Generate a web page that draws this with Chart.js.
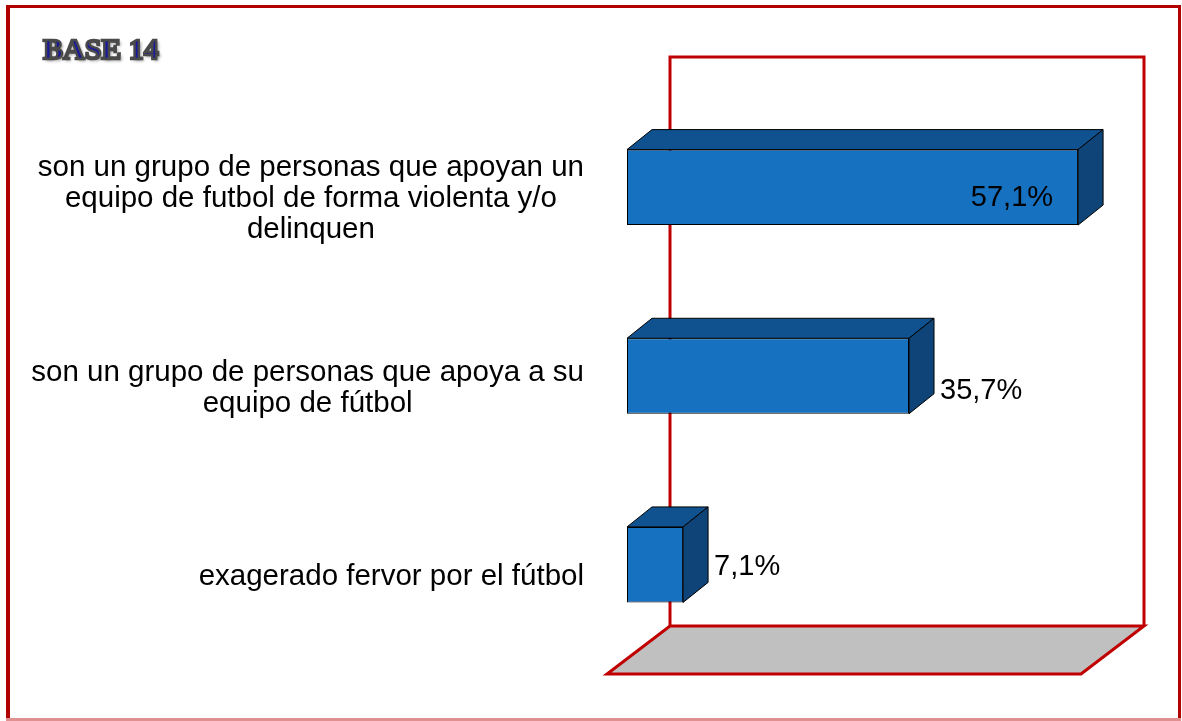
<!DOCTYPE html>
<html><head><meta charset="utf-8">
<script src="https://cdn.jsdelivr.net/npm/chart.js@4"></script>
<style>html,body{margin:0;padding:0;background:#fff}#wrap{width:1182px;height:721px;position:relative}</style>
</head><body><div id="wrap"><canvas id="c" width="1182" height="721"></canvas></div>
<script>
const titleText = 'BASE 14';
const categories = [
  ['son un grupo de personas que apoyan un', 'equipo de futbol de forma violenta y/o', 'delinquen'],
  ['son un grupo de personas que apoya a su', 'equipo de fútbol'],
  ['exagerado fervor por el fútbol']
];
const values = [57.1, 35.7, 7.1];
const valueLabels = ['57,1%', '35,7%', '7,1%'];
const axisMin = 0;
const axisMax = 60;

const BAR_DEPTH = {x: 25, y: -20};
const WALL_BACK = {x: 43, y: -33};
const WALL_FRONT = {x: -20, y: 15};
const FRONT = '#1671c1', TOP = '#10528f', SIDE = '#0e4477';
const FONT = '"Liberation Sans", Arial, sans-serif';
const VALUE_NUDGE = [11, 15, 2];

const scene = {
  id: 'scene',
  beforeDraw(chart) {
    const ctx = chart.ctx;
    ctx.save();
    ctx.fillStyle = '#fff';
    ctx.fillRect(0, 0, chart.width, chart.height);
    // outer frame
    ctx.fillStyle = '#b00000';
    ctx.fillRect(6, 5, 4, 716);
    ctx.fillRect(6, 5, 1175, 3);
    ctx.fillRect(1178, 5, 3, 716);
    ctx.fillStyle = '#e09090';
    ctx.fillRect(6, 718, 1175, 3);
    // title
    ctx.font = 'bold 30px "Liberation Serif", "Times New Roman", serif';
    ctx.textBaseline = 'alphabetic';
    ctx.textAlign = 'left';
    ctx.shadowColor = 'rgba(0,0,0,0.45)';
    ctx.shadowOffsetX = 2; ctx.shadowOffsetY = 2; ctx.shadowBlur = 3;
    ctx.fillStyle = '#1a1a9c';
    ctx.fillText(titleText, 43, 59);
    ctx.shadowColor = 'transparent';
    ctx.lineWidth = 2.4;
    ctx.strokeStyle = '#4a4a4a';
    ctx.strokeText(titleText, 43, 59);
    ctx.restore();
  },
  beforeDatasetsDraw(chart) {
    const ctx = chart.ctx, ca = chart.chartArea;
    const L = ca.left, R = ca.right, B = ca.bottom, T = ca.top;
    ctx.save();
    ctx.lineJoin = 'miter';
    // floor
    ctx.beginPath();
    ctx.moveTo(L + WALL_BACK.x, B + WALL_BACK.y);
    ctx.lineTo(R + WALL_BACK.x, B + WALL_BACK.y);
    ctx.lineTo(R + WALL_FRONT.x, B + WALL_FRONT.y);
    ctx.lineTo(L + WALL_FRONT.x, B + WALL_FRONT.y);
    ctx.closePath();
    ctx.fillStyle = '#c0c0c0';
    ctx.fill();
    ctx.strokeStyle = '#c00000';
    ctx.lineWidth = 3;
    ctx.stroke();
    // back wall
    const wallTop = T + WALL_BACK.y - 3;
    ctx.beginPath();
    ctx.moveTo(L + WALL_BACK.x, B + WALL_BACK.y);
    ctx.lineTo(L + WALL_BACK.x, wallTop);
    ctx.lineTo(R + WALL_BACK.x, wallTop);
    ctx.lineTo(R + WALL_BACK.x, B + WALL_BACK.y);
    ctx.stroke();
    ctx.restore();
  },
  afterDatasetsDraw(chart) {
    const ctx = chart.ctx, ca = chart.chartArea;
    const meta = chart.getDatasetMeta(0);
    const yScale = chart.scales.y;
    ctx.save();
    ctx.lineWidth = 1;
    ctx.strokeStyle = '#000';
    ctx.lineJoin = 'round';
    meta.data.forEach((bar, i) => {
      const p = bar.getProps(['x', 'y', 'base', 'height'], true);
      const l = Math.min(p.x, p.base), r = Math.max(p.x, p.base);
      const t = p.y - p.height / 2, b = p.y + p.height / 2;
      const dx = BAR_DEPTH.x, dy = BAR_DEPTH.y;
      // top face
      ctx.beginPath();
      ctx.moveTo(l, t); ctx.lineTo(l + dx, t + dy); ctx.lineTo(r + dx, t + dy); ctx.lineTo(r, t);
      ctx.closePath();
      ctx.fillStyle = TOP; ctx.fill(); ctx.stroke();
      // side face
      ctx.beginPath();
      ctx.moveTo(r, t); ctx.lineTo(r + dx, t + dy); ctx.lineTo(r + dx, b + dy); ctx.lineTo(r, b);
      ctx.closePath();
      ctx.fillStyle = SIDE; ctx.fill(); ctx.stroke();
      // value label
      ctx.font = '29px ' + FONT;
      ctx.fillStyle = '#000';
      ctx.textBaseline = 'middle';
      const w = ctx.measureText(valueLabels[i]).width;
      const outX = r + dx + 6;
      const ly = p.y + (VALUE_NUDGE[i] || 8);
      if (outX + w > ca.right + WALL_BACK.x) {
        ctx.textAlign = 'right';
        ctx.fillText(valueLabels[i], r - 25, ly);
      } else {
        ctx.textAlign = 'left';
        ctx.fillText(valueLabels[i], outX, ly);
      }
    });
    // category labels
    ctx.font = '29.5px ' + FONT;
    ctx.fillStyle = '#000';
    ctx.textBaseline = 'middle';
    ctx.textAlign = 'center';
    const lineH = 31, rightEdge = 584;
    categories.forEach((lines, i) => {
      const cy = yScale.getPixelForValue(i) + 12;
      const widest = Math.max(...lines.map(s => ctx.measureText(s).width));
      const cx = rightEdge - widest / 2;
      lines.forEach((s, k) => {
        ctx.fillText(s, cx, cy + (k - (lines.length - 1) / 2) * lineH);
      });
    });
    ctx.restore();
  }
};

new Chart(document.getElementById('c'), {
  type: 'bar',
  data: {
    labels: categories,
    datasets: [{
      data: values,
      backgroundColor: FRONT,
      borderColor: '#000',
      borderWidth: 1,
      borderSkipped: false,
      barPercentage: 0.8,
      categoryPercentage: 0.5
    }]
  },
  options: {
    indexAxis: 'y',
    responsive: false,
    devicePixelRatio: 1,
    animation: false,
    layout: {padding: {left: 627, right: 81, top: 93, bottom: 62}},
    scales: {
      x: {display: false, min: axisMin, max: axisMax},
      y: {display: false}
    },
    plugins: {legend: {display: false}, tooltip: {enabled: false}}
  },
  plugins: [scene]
});
</script>
</body></html>
